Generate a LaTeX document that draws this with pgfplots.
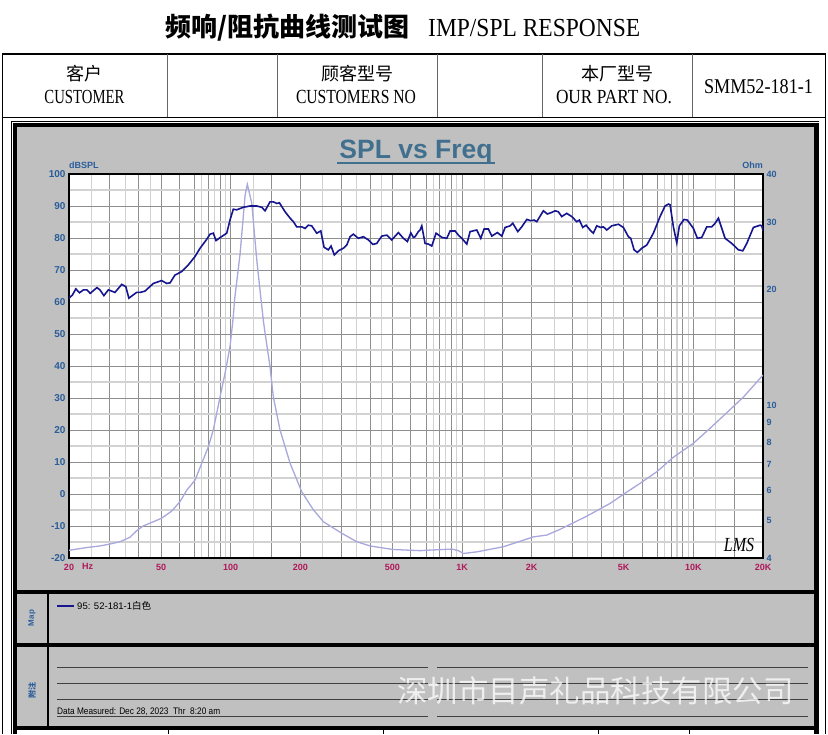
\documentclass[border=0pt]{standalone}
\usepackage{pgfplots}
\pgfplotsset{compat=1.18}
\usepackage{pgfplotstable}
\usepackage{graphicx}
\usepackage{fontspec}
\setmainfont{Liberation Serif}
\setsansfont{Liberation Sans}
\newfontfamily\cjk{Noto Sans CJK SC}

\definecolor{panelgray}{HTML}{C0C0C0}
\definecolor{tickblue}{HTML}{2A5D9B}
\definecolor{freqred}{HTML}{B0185A}
\definecolor{titleblue}{HTML}{41708F}
\definecolor{splblue}{HTML}{15158F}
\definecolor{impviolet}{HTML}{A8A8DC}
\definecolor{gridmajor}{HTML}{8E8E8E}
\definecolor{gridminor}{HTML}{D2D2D2}

% SPL (dB) vs frequency (Hz)
\pgfplotstableread{
freq spl
20 61.2
20.7 62.2
21.4 64.1
22.2 62.9
23.1 63.8
23.9 63.8
24.7 62.7
26.4 64.5
27.2 63.8
28.3 62.0
29.6 63.8
31.6 63.0
33.8 65.5
35.2 64.8
36.3 61.2
39.2 63.0
40.6 63.0
42.6 63.4
46.3 65.8
50.3 66.7
52.9 65.8
54.7 66.0
57.4 68.4
61.4 69.5
65.6 71.6
70.1 74.2
73.7 76.8
78.8 79.6
81.4 81.2
84.1 81.5
86.4 79.2
89.9 80.1
96.1 81.5
99.3 85.6
102.6 89.0
106.1 88.8
113.4 89.6
121.2 90.0
129.6 90.0
136.2 89.6
140.8 88.5
147.9 91.3
152.9 91.3
158.2 90.8
162.4 91.0
171.8 88.2
180.6 86.2
186.6 85.1
192.9 83.5
202.8 83.5
209.6 83.0
216.6 84.0
224.0 83.8
235.5 81.5
245.1 82.2
253.3 77.1
264.3 76.3
271.5 77.5
280.6 74.7
292.0 76.0
306.9 76.8
317.5 77.8
328.1 80.4
339.1 81.2
356.4 79.9
374.6 80.4
393.7 79.4
411.3 78.0
427.9 78.3
449.8 80.6
472.8 80.9
496.9 79.4
530.7 81.7
557.8 79.9
580.5 78.9
600.5 81.6
616.1 80.2
626.6 80.4
647.5 82.0
658.6 82.5
669.8 83.8
692.2 78.3
715.4 78.1
740.0 77.5
772.4 81.5
817.5 80.2
859.3 79.9
887.9 82.2
933.2 82.2
964.4 80.9
997.6 79.9
1048.5 78.1
1083.5 82.0
1158.1 82.5
1205.2 79.9
1245.6 82.8
1300.1 82.8
1344.9 80.6
1421.9 81.7
1485.5 80.6
1535.2 83.3
1613.5 83.8
1657.5 84.6
1742.0 82.0
1812.9 83.5
1905.3 85.8
1982.7 85.4
2048.7 85.6
2104.1 85.1
2246.3 88.5
2337.7 87.5
2442.2 88.0
2523.9 88.5
2607.8 88.2
2697.6 86.7
2835.2 87.7
2980.3 86.7
3132.5 85.1
3214.3 85.6
3325.0 83.3
3436.3 84.0
3575.9 82.5
3695.0 81.5
3822.2 83.8
3977.6 83.3
4082.5 83.5
4222.9 82.5
4438.3 83.8
4740.3 84.3
4983.0 83.3
5237.5 80.4
5363.2 79.9
5542.6 76.3
5728.1 75.5
5984.3 76.8
6289.5 77.8
6717.6 81.5
7178.0 86.7
7544.1 90.0
7796.6 90.6
7930.5 90.4
8194.1 83.5
8475.9 78.5
8698.4 83.8
9115.6 85.8
9419.7 85.6
10002 83.0
10409 79.9
10874 80.2
11430 83.5
12013 83.5
12413 84.6
12828 86.2
13713 79.9
14655 78.3
15654 76.3
16354 76.0
17019 78.3
18175 83.3
19433 84.0
19763 83.8
20000 82.3
}\spltable

% impedance (Ohm) vs frequency (Hz)
\pgfplotstableread{
freq ohm
20 4.19
23.9 4.26
27.2 4.30
30.1 4.35
33.2 4.41
36.7 4.53
39.2 4.71
41.9 4.85
46.3 4.97
50.3 5.08
55.6 5.30
60.4 5.61
64.6 6.01
70.1 6.38
75.0 7.06
80.1 7.80
84.1 8.62
89.9 10.5
94.5 12.1
99.3 14.2
102.6 17.0
103.9 18.8
109.8 24.8
115.4 35.2
118.0 37.6
123.3 33.6
129.6 23.9
135.3 18.8
138.4 16.6
140.8 15.4
147.9 12.6
152.9 10.5
163.4 8.62
180.6 7.06
202.8 5.95
227.7 5.34
251.7 4.97
302.1 4.64
350.7 4.41
400.2 4.30
501.7 4.21
658.6 4.18
703.9 4.19
830.1 4.21
902.8 4.22
964.4 4.18
1013.6 4.11
1158.1 4.15
1509.7 4.28
2034.2 4.54
2323.7 4.59
2652.2 4.75
3460.2 5.14
4365.8 5.55
5067.5 5.90
5884.4 6.26
6948.1 6.71
8194.1 7.32
10002 7.96
11812 8.71
13946 9.56
16457 10.5
20000 11.98
}\imptable

\pgfplotsset{
  lmsbox/.style={
    at={(69pt,-558pt)}, anchor=south west,
    scale only axis, width=694pt, height=384pt,
    xmin=20, xmax=20000,
  },
}

\begin{document}
\begin{tikzpicture}
\begin{scope}[x=1pt,y=-1pt]
  \fill[white] (0,0) rectangle (828,734);
  % page title
  \node[anchor=base west, inner sep=0] at (165,36)
    {\cjk\bfseries\fontsize{26}{28}\selectfont 频响/阻抗曲线测试图};
  \node[anchor=base west, inner sep=0] at (428,36)
    {\resizebox{212pt}{\height}{\fontsize{26}{28}\selectfont IMP/SPL RESPONSE}};
  % header table
  \draw[line width=2.5pt] (2,54) -- (826,54);
  \draw[line width=1pt] (2.5,54) -- (2.5,734);
  \draw[line width=1pt] (825.5,54) -- (825.5,734);
  \draw[line width=1pt] (2,117) -- (826,117);
  \foreach \cx in {167,277,437,542,692}
    \draw[gray!80!black, line width=1pt] (\cx,54) -- (\cx,117);
  \node[inner sep=0] at (84.5,73.5) {\cjk\fontsize{18}{20}\selectfont 客户};
  \node[anchor=base, inner sep=0] at (84.5,103)
    {\resizebox{80pt}{\height}{\fontsize{20}{22}\selectfont CUSTOMER}};
  \node[inner sep=0] at (357,73.5) {\cjk\fontsize{18}{20}\selectfont 顾客型号};
  \node[anchor=base, inner sep=0] at (356,103)
    {\resizebox{120pt}{\height}{\fontsize{20}{22}\selectfont CUSTOMERS NO}};
  \node[inner sep=0] at (617,73.5) {\cjk\fontsize{18}{20}\selectfont 本厂型号};
  \node[anchor=base, inner sep=0] at (614,103)
    {\resizebox{116pt}{\height}{\fontsize{20}{22}\selectfont OUR PART NO.}};
  \node[anchor=base, inner sep=0] at (758.5,93)
    {\resizebox{109pt}{\height}{\fontsize{21}{23}\selectfont SMM52-181-1}};
  % panels
  \fill[black] (11,121) rectangle (819,734);
  \draw[white, line width=0.7pt] (12.6,122.4) -- (12.6,734);
  \draw[white, line width=0.7pt] (12.6,122.4) -- (819,122.4);
  \fill[panelgray] (17,127) rectangle (814,590);
  \fill[panelgray] (17,594) rectangle (814,643);
  \fill[panelgray] (17,647) rectangle (814,726);
  \fill[white] (17,730) rectangle (814,734);
  \foreach \cx in {168,383,598,689}
    \draw[line width=1pt] (\cx,730) -- (\cx,734);
  \draw[line width=2pt] (48,594) -- (48,643);
  \draw[line width=2pt] (48,647) -- (48,726);
  % chart texts
  \node[anchor=base, inner sep=0, text=titleblue] at (416,158)
    {\sffamily\bfseries\fontsize{26.5}{28}\selectfont SPL vs Freq};
  \draw[titleblue, line width=2pt] (337,163) -- (495,163);
  \node[anchor=base west, inner sep=0, text=tickblue] at (69,168)
    {\sffamily\bfseries\fontsize{9}{10}\selectfont dBSPL};
  \node[anchor=base east, inner sep=0, text=tickblue] at (763,168)
    {\sffamily\bfseries\fontsize{9}{10}\selectfont Ohm};
\end{scope}

% frame, grid and dB scale
\begin{axis}[
  lmsbox,
  xmode=log,
  ymin=-20, ymax=100,
  xtick={20,30,40,50,60,70,80,90,100,150,200,300,400,500,600,700,800,900,1000,1500,2000,3000,4000,5000,6000,7000,8000,9000,10000,15000,20000},
  xticklabels={20,,,50,,,,,100,,200,,,500,,,,,1K,,2K,,,5K,,,,,10K,,20K},
  minor xtick={25,35,45,75,85,95,125,250,350,450,750,850,950,1250,2500,3500,4500,7500,8500,9500,12500},
  ytick={-20,-10,0,10,20,30,40,50,60,70,80,90,100},
  yticklabels={-20,-10,0,10,20,30,40,50,60,70,80,90,100},
  minor ytick={-15,-5,5,15,25,35,45,55,65,75,85,95},
  grid=both,
  major grid style={gridmajor, line width=0.9pt},
  minor grid style={gridminor, line width=1.2pt},
  tick style={draw=none},
  axis line style={black, line width=1.6pt},
  axis background/.style={fill=white},
  xticklabel style={text=freqred, yshift=-3pt, font=\sffamily\bfseries\fontsize{9}{10}\selectfont},
  yticklabel style={text=tickblue, font=\sffamily\bfseries\fontsize{10}{11}\selectfont},
]
\end{axis}

% impedance (right scale)
\begin{axis}[
  lmsbox,
  xmode=log, ymode=log,
  ymin=4, ymax=40,
  axis x line=none,
  axis y line*=right,
  axis line style={draw=none},
  tick style={draw=none},
  ytick={4,5,6,7,8,9,10,20,30,40},
  yticklabels={4,5,6,7,8,9,10,20,30,40},
  yticklabel style={text=tickblue, font=\sffamily\bfseries\fontsize{9}{10}\selectfont},
]
\addplot[impviolet, line width=1.3pt] table[x=freq, y=ohm] {\imptable};
\end{axis}

% SPL curve on top
\begin{axis}[
  lmsbox,
  xmode=log,
  ymin=-20, ymax=100,
  hide axis,
]
\addplot[splblue, line width=1.6pt] table[x=freq, y=spl] {\spltable};
\end{axis}

\begin{scope}[x=1pt,y=-1pt]
  \node[anchor=west, inner sep=0, text=freqred] at (82,566)
    {\sffamily\bfseries\fontsize{9}{10}\selectfont Hz};
  \node[inner sep=0] at (739,545)
    {\scalebox{1}[1.25]{\itshape\fontsize{16}{16}\selectfont LMS}};
  % legend panel
  \node[rotate=90, inner sep=0, text=tickblue] at (32,618)
    {\sffamily\bfseries\fontsize{8}{9}\selectfont Map};
  \draw[splblue, line width=1.4pt] (57,606) -- (74,606);
  \node[anchor=west, inner sep=0] at (77,606)
    {\resizebox{74pt}{\height}{\sffamily\fontsize{9.5}{10}\selectfont 95: 52-181-1{\cjk 白色}}};
  % notes panel
  \node[rotate=90, inner sep=0, text=tickblue] at (32,690)
    {\cjk\bfseries\fontsize{8}{9}\selectfont 附注};
  \foreach \ly in {667,683,699,716} {
    \draw[black!75, line width=0.9pt] (57,\ly) -- (428,\ly);
    \draw[black!75, line width=0.9pt] (437,\ly) -- (808,\ly);
  }
  \node[anchor=base west, inner sep=0] at (57,714)
    {\resizebox{163pt}{\height}{\sffamily\fontsize{9.5}{10}\selectfont Data Measured: Dec 28, 2023\ \ Thr\ \ 8:20 am}};
  \node[anchor=west, inner sep=0, text=white, opacity=0.75] at (397,691)
    {\cjk\fontsize{30.5}{32}\selectfont 深圳市目声礼品科技有限公司};
\end{scope}
\end{tikzpicture}
\end{document}
